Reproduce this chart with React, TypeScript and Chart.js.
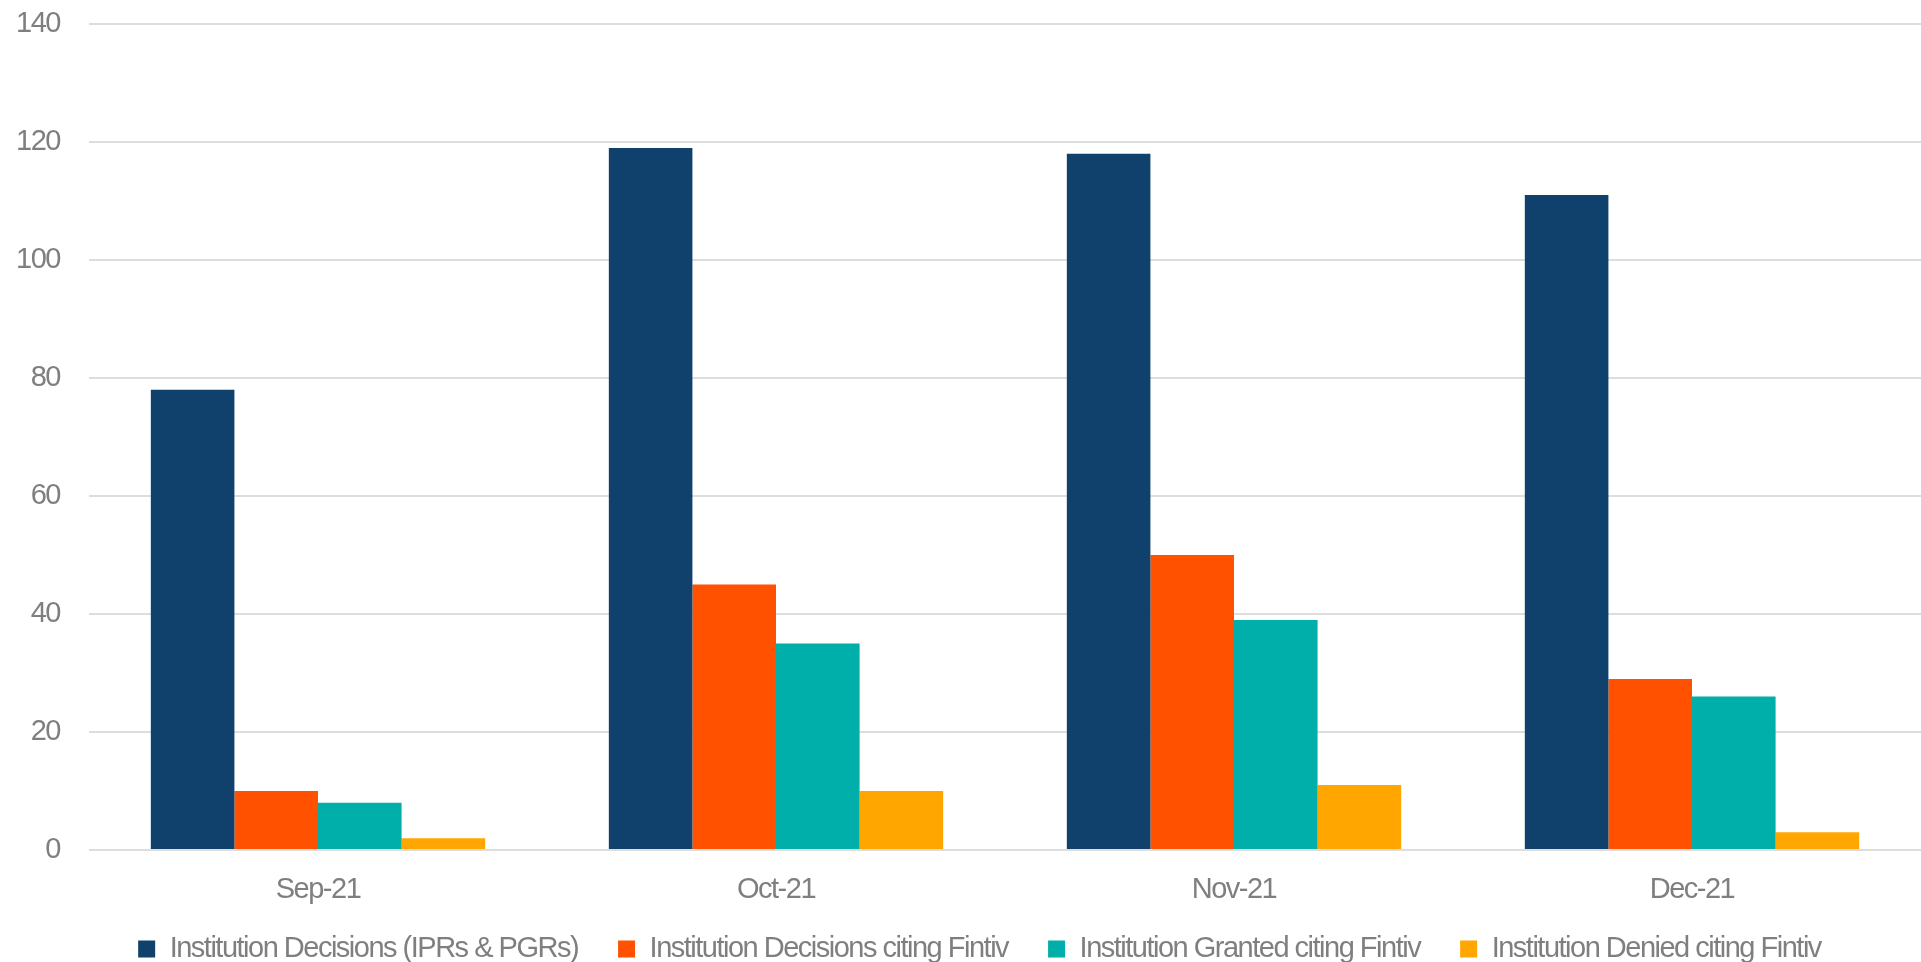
import React, { useEffect, useRef } from "react";
import { Chart, registerables } from "chart.js";

Chart.register(...registerables);

const categories = ["Sep-21", "Oct-21", "Nov-21", "Dec-21"];
const seriesNames = [
  "Institution Decisions (IPRs & PGRs)",
  "Institution Decisions citing Fintiv",
  "Institution Granted citing Fintiv",
  "Institution Denied citing Fintiv",
];
const totalDecisions = [78, 119, 118, 111];
const decisionsCitingFintiv = [10, 45, 50, 29];
const grantedCitingFintiv = [8, 35, 39, 26];
const deniedCitingFintiv = [2, 10, 11, 3];
const seriesColors = ["#10416C", "#FF5100", "#00AFA9", "#FFA600"];
const yTicks = [0, 20, 40, 60, 80, 100, 120, 140];

const FONT = "'Liberation Sans', Arial, sans-serif";
const FONT_SIZE = 29;
const LETTER_SPACING = "-1.5px";

const condensePlugin = {
  id: "condense",
  beforeUpdate(chart: any) {
    chart.ctx.letterSpacing = LETTER_SPACING;
  },
  beforeLayout(chart: any) {
    chart.ctx.letterSpacing = LETTER_SPACING;
  },
  afterLayout(chart: any) {
    if (chart.legend) {
      chart.legend.left += 19;
      chart.legend.right += 19;
    }
    if (chart.scales && chart.scales.x) {
      chart.scales.x.bottom += 30;
    }
  },
  beforeDraw(chart: any) {
    chart.ctx.letterSpacing = LETTER_SPACING;
  },
};

export default function App() {
  const ref = useRef<HTMLCanvasElement | null>(null);

  useEffect(() => {
    if (!ref.current) return;
    const values = [totalDecisions, decisionsCitingFintiv, grantedCitingFintiv, deniedCitingFintiv];
    const chart = new Chart(ref.current, {
      type: "bar",
      plugins: [condensePlugin],
      data: {
        labels: categories,
        datasets: values.map((v, i) => ({
          label: seriesNames[i],
          data: v,
          backgroundColor: seriesColors[i],
          borderWidth: 0,
          categoryPercentage: 0.73,
          barPercentage: 1.0,
        })),
      },
      options: {
        animation: false,
        responsive: true,
        maintainAspectRatio: false,
        layout: { padding: { top: 24, right: 0, bottom: -11.5, left: 0 } },
        plugins: {
          tooltip: { enabled: false },
          legend: {
            position: "bottom",
            labels: {
              boxWidth: 17,
              boxHeight: 17,
              padding: 40,
              color: "#7F7F7F",
              font: { family: FONT, size: FONT_SIZE },
            },
          },
        },
        scales: {
          x: {
            grid: { display: false, drawTicks: false },
            border: { display: false },
            afterFit: (scale: any) => {
              scale.height = 44.5;
            },
            ticks: { color: "#7F7F7F", padding: 22.6, font: { family: FONT, size: FONT_SIZE } },
          },
          y: {
            min: 0,
            max: 140,
            afterBuildTicks: (scale: any) => {
              scale.ticks = yTicks.map((v) => ({ value: v }));
            },
            afterFit: (scale: any) => {
              scale.width = 89;
              scale.paddingTop = 0;
              scale.paddingBottom = 0;
            },
            grid: { color: "#DDDDDD", lineWidth: 2, drawTicks: false },
            border: { display: false },
            ticks: { color: "#7F7F7F", padding: 29, font: { family: FONT, size: FONT_SIZE } },
          },
        },
      },
    } as any);
    return () => chart.destroy();
  }, []);

  return (
    <div style={{ position: "absolute", left: 0, top: 0, width: 1921, height: 962, background: "#fff" }}>
      <canvas ref={ref} />
    </div>
  );
}
